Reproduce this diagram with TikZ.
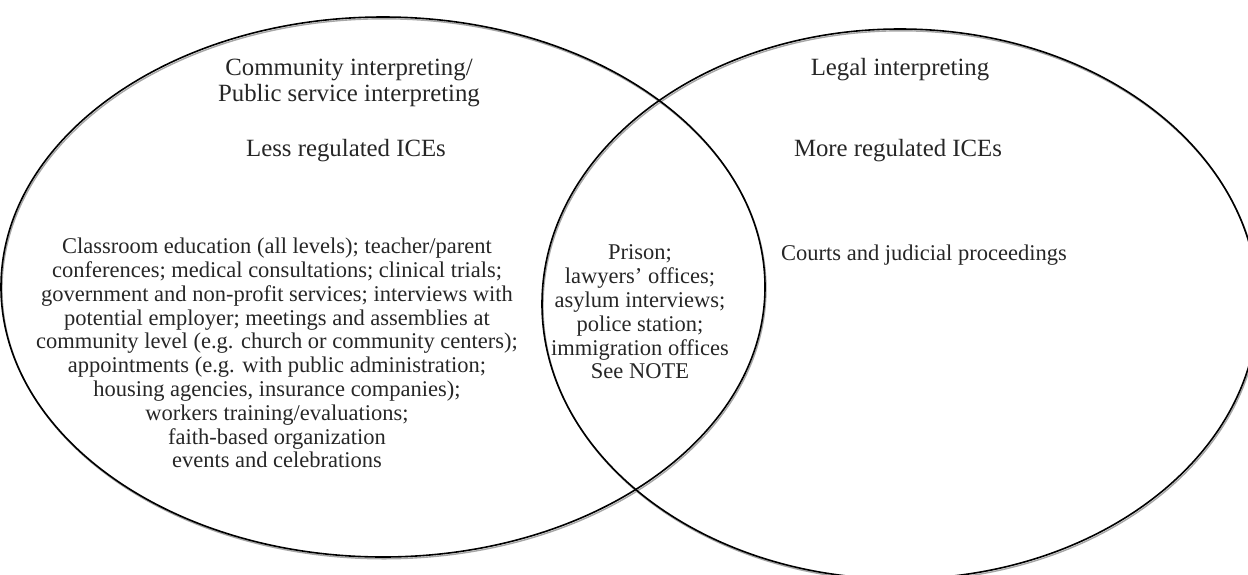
\documentclass[tikz,border=0pt]{standalone}
\usepackage{fontspec}
\setmainfont{Liberation Serif}
\begin{document}
\begin{tikzpicture}[x=1pt,y=-1pt]
  \tikzstyle{label}=[text=black!85,font=\fontsize{22.5}{23.8}\selectfont,inner sep=0pt,align=center]
  \tikzstyle{heading}=[label,font=\fontsize{24.8}{26}\selectfont]
  \tikzstyle{rim}=[draw=black,line width=1.6pt]
  \tikzstyle{rimshade}=[draw=black!35,line width=1.4pt]
  \useasboundingbox (0,0) rectangle (1248,574);
  \clip (0,0) rectangle (1248,574);
  % circles
  \draw[rimshade] (384,288.8) ellipse [x radius=382, y radius=270];
  \draw[rimshade] (901,305.8) ellipse [x radius=358, y radius=275];
  \draw[rim] (383,287) ellipse [x radius=382, y radius=270];
  \draw[rim] (900,304) ellipse [x radius=358, y radius=275];
  % headings
  \node[heading] (community) at (349,83) {Community interpreting/\\Public service interpreting};
  \node[heading] (less) at (346,151) {Less regulated ICEs};
  \node[heading] (legal) at (900,70) {Legal interpreting};
  \node[heading] (more) at (898,151) {More regulated ICEs};
  % settings
  \node[label] (settings) at (277,353) {Classroom education (all levels); teacher/parent\\
    conferences; medical consultations; clinical trials;\\
    government and non-profit services; interviews with\\
    potential employer; meetings and assemblies at\\
    community level (e.g. church or community centers);\\
    appointments (e.g. with public administration;\\
    housing agencies, insurance companies);\\
    workers training/evaluations;\\
    faith-based organization\\
    events and celebrations};
  \node[label] (shared) at (640,312) {Prison;\\lawyers’ offices;\\asylum interviews;\\police station;\\immigration offices\\See NOTE};
  \node[label,anchor=west] (courts) at (781,255) {Courts and judicial proceedings};
\end{tikzpicture}
\end{document}
